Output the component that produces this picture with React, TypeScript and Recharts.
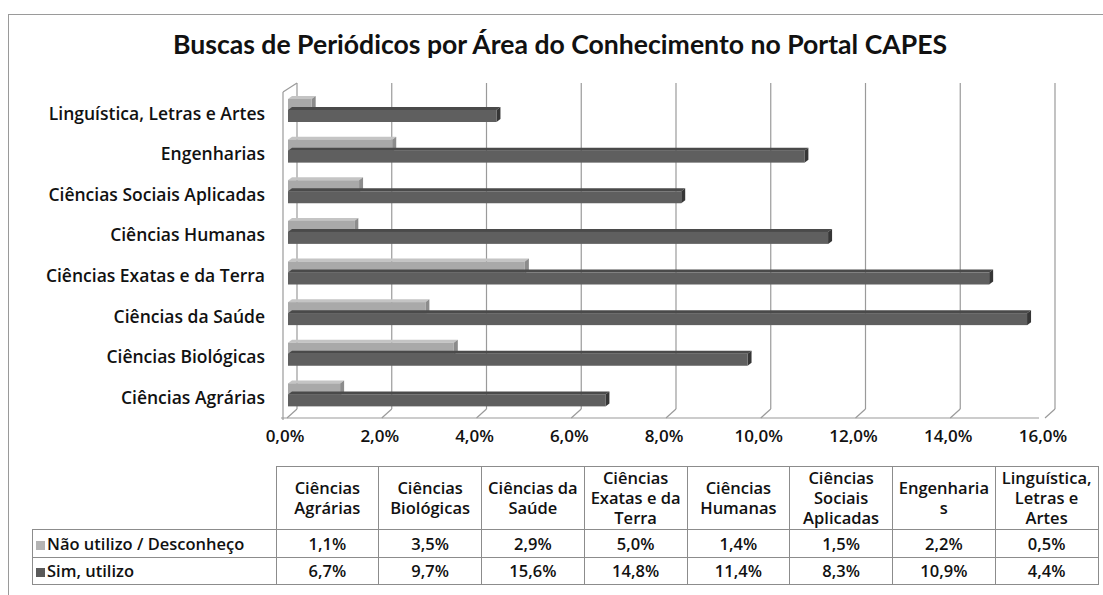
import React from 'react';
import { BarChart, Bar, XAxis, YAxis, CartesianGrid } from 'recharts';

const title = 'Buscas de Periódicos por Área do Conhecimento no Portal CAPES';
const categories = [
  'Ciências Agrárias',
  'Ciências Biológicas',
  'Ciências da Saúde',
  'Ciências Exatas e da Terra',
  'Ciências Humanas',
  'Ciências Sociais Aplicadas',
  'Engenharias',
  'Linguística, Letras e Artes',
];
const seriesNames = ['Não utilizo / Desconheço', 'Sim, utilizo'];
const naoUtilizo = [1.1, 3.5, 2.9, 5.0, 1.4, 1.5, 2.2, 0.5];
const simUtilizo = [6.7, 9.7, 15.6, 14.8, 11.4, 8.3, 10.9, 4.4];
const xTicks = [0, 2, 4, 6, 8, 10, 12, 14, 16];

const FONT = '"Open Sans", Lato, "DejaVu Sans", sans-serif';
const TITLE_FONT = 'Lato, "Open Sans", sans-serif';
const LIGHT = { front: '#a9a9a9', top: '#c4c4c4', side: '#8c8c8c', key: '#b4b4b4' };
const DARK = { front: '#5f5f5f', top: '#4a4a4a', side: '#363636', key: '#5a5a5a' };

const fmt = (v: number) => v.toFixed(1).replace('.', ',') + '%';

const chartData = categories
  .map((c, i) => ({ name: c, nao: naoUtilizo[i], sim: simUtilizo[i] }))
  .reverse();

const DX = 4;
const DY = 3;

const make3D = (col: { front: string; top: string; side: string }) => (props: any) => {
  const { x, y, width, height } = props;
  if (width == null || height == null) return <g />;
  return (
    <g>
      <polygon
        points={`${x},${y} ${x + DX},${y - DY} ${x + width + DX},${y - DY} ${x + width},${y}`}
        fill={col.top}
      />
      <polygon
        points={`${x + width},${y} ${x + width + DX},${y - DY} ${x + width + DX},${y + height - DY} ${x + width},${y + height}`}
        fill={col.side}
      />
      <rect x={x} y={y} width={width} height={height} fill={col.front} />
    </g>
  );
};

const GX = 9;
const GY = 9;

const gridLine = (props: any) => {
  const { x1, y1, y2, index } = props;
  const key = props.key ?? `g${index}-${x1}`;
  const top = y1 - 7;
  const bottom = y2 - 6;
  return (
    <g key={key}>
      <line x1={x1 + GX} y1={top} x2={x1 + GX} y2={bottom} stroke="#9a9a9a" strokeWidth={1.2} />
      <line x1={x1 + GX} y1={bottom} x2={x1 - 1} y2={bottom + GY} stroke="#9a9a9a" strokeWidth={1.2} />
      {index === 0 ? (
        <>
          <line x1={x1 - 5} y1={top + 9} x2={x1 + GX} y2={top} stroke="#9a9a9a" strokeWidth={1.2} />
          <line x1={x1 - 5} y1={top + 9} x2={x1 - 5} y2={bottom + GY + 2} stroke="#9a9a9a" strokeWidth={1.2} />
        </>
      ) : null}
    </g>
  );
};

export default function App() {
  const colW = 102.75;
  const cellBorder = '1px solid #8c8c8c';
  const cellStyle: React.CSSProperties = {
    border: cellBorder,
    textAlign: 'center',
    verticalAlign: 'middle',
    padding: '0 3px',
    width: colW,
    boxSizing: 'border-box',
    overflowWrap: 'anywhere',
  };
  return (
    <div
      style={{
        position: 'absolute',
        left: 0,
        top: 0,
        width: 1103,
        height: 595,
        background: '#fff',
        fontFamily: FONT,
        overflow: 'hidden',
      }}
    >
      <div
        style={{
          position: 'absolute',
          left: 8,
          top: 14,
          width: 1120,
          height: 620,
          borderTop: '1px solid #9a9a9a',
          borderLeft: '1px solid #9a9a9a',
        }}
      />
      <div
        style={{
          position: 'absolute',
          left: 0,
          width: 1120,
          top: 28,
          textAlign: 'center',
          fontSize: 26.6,
          fontWeight: 700,
          color: '#111',
          fontFamily: TITLE_FONT,
        }}
      >
        {title}
      </div>
      <div style={{ position: 'absolute', left: 0, top: 0 }}>
        <BarChart
          width={1103}
          height={463}
          layout="vertical"
          data={chartData}
          margin={{ top: 90, right: 57, bottom: 0, left: 0 }}
          barSize={12}
          barGap={-1}
        >
          <CartesianGrid horizontal={false} vertical={gridLine} />
          <XAxis
            type="number"
            domain={[0, 16]}
            ticks={xTicks}
            interval={0}
            tickFormatter={fmt}
            height={48}
            tickSize={0}
            tickMargin={15}
            axisLine={{ stroke: '#9a9a9a', strokeWidth: 1.2, transform: 'translate(-7,3)' }}
            tick={{ fill: '#111', fontSize: 17, fontWeight: 600, fontFamily: FONT, dx: -3 }}
          />
          <YAxis
            type="category"
            dataKey="name"
            width={288}
            tickSize={0}
            tickMargin={23}
            axisLine={false}
            tickLine={false}
            interval={0}
            tick={{ fill: '#111', fontSize: 17.5, fontWeight: 600, fontFamily: FONT, dy: 3 }}
          />
          <Bar dataKey="nao" name={seriesNames[0]} isAnimationActive={false} shape={make3D(LIGHT)} />
          <Bar dataKey="sim" name={seriesNames[1]} isAnimationActive={false} shape={make3D(DARK)} />
        </BarChart>
      </div>
      <table
        style={{
          position: 'absolute',
          left: 32,
          top: 466,
          borderCollapse: 'collapse',
          tableLayout: 'fixed',
          fontSize: 16.5,
          fontWeight: 600,
          color: '#111',
          fontFamily: FONT,
          lineHeight: '20px',
        }}
      >
        <tbody>
          <tr style={{ height: 63 }}>
            <td style={{ width: 241, border: 'none', borderBottom: cellBorder, borderRight: cellBorder }} />
            {categories.map((c) => (
              <td key={c} style={cellStyle}>
                {c}
              </td>
            ))}
          </tr>
          {[naoUtilizo, simUtilizo].map((vals, r) => (
            <tr key={r} style={{ height: r === 0 ? 28 : 27 }}>
              <td style={{ border: cellBorder, textAlign: 'left', padding: '0 3px', whiteSpace: 'nowrap' }}>
                <span
                  style={{
                    display: 'inline-block',
                    width: 9,
                    height: 9,
                    background: r === 0 ? LIGHT.key : DARK.key,
                    marginRight: 2,
                  }}
                />
                {seriesNames[r]}
              </td>
              {vals.map((v, i) => (
                <td key={i} style={cellStyle}>
                  {fmt(v)}
                </td>
              ))}
            </tr>
          ))}
        </tbody>
      </table>
    </div>
  );
}
